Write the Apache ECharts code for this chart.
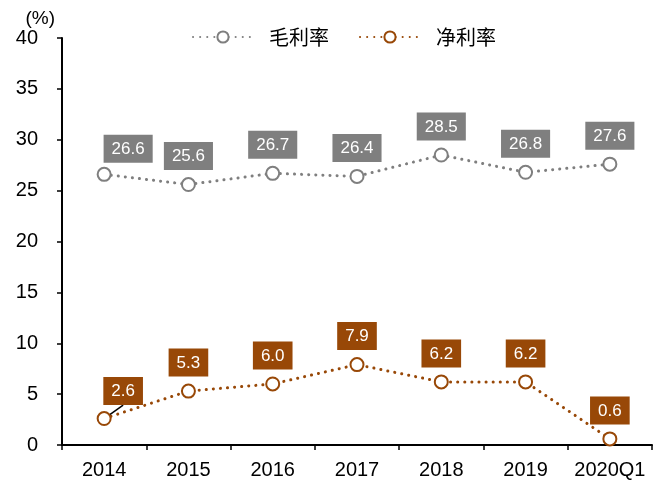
<!DOCTYPE html>
<html>
<head>
<meta charset="utf-8">
<script src="https://cdn.jsdelivr.net/npm/echarts@6/dist/echarts.min.js"></script>
<style>
html, body { margin: 0; padding: 0; background: #fff; }
#chart { width: 670px; height: 481px; }
</style>
</head>
<body>
<div id="chart"></div>
<script>
// 年份
var years = ['2014', '2015', '2016', '2017', '2018', '2019', '2020Q1'];
// 毛利率 (%)
var grossMargin = [26.6, 25.6, 26.7, 26.4, 28.5, 26.8, 27.6];
// 净利率 (%)
var netMargin = [2.6, 5.3, 6.0, 7.9, 6.2, 6.2, 0.6];

var grayColor = '#7f7f7f';
var brownColor = '#984807';
var numFont = 'Liberation Sans, Arial';

function labelStyle(bg) {
    return {
        show: true,
        position: 'top',
        distance: 7,
        color: '#fff',
        fontFamily: numFont,
        fontSize: 17,
        backgroundColor: bg,
        padding: [6, 8, 5, 8],
        formatter: function(p) { return p.value.toFixed(1); }
    };
}

var chart = echarts.init(document.getElementById('chart'));
var option = {
    animation: false,
    grid: { left: 62, right: 18, top: 38, bottom: 36 },
    legend: {
        top: 22,
        left: 187,
        itemWidth: 60,
        itemHeight: 14,
        itemGap: 30,
        textStyle: { fontFamily: 'Noto Sans CJK SC', fontSize: 20, color: '#000', padding: [0, 0, 0, 11] },
        data: ['毛利率', '净利率']
    },
    xAxis: {
        type: 'category',
        data: years,
        axisLine: { lineStyle: { color: '#000', width: 2 } },
        axisTick: { show: true, length: 5, lineStyle: { color: '#000', width: 1.5 } },
        axisLabel: { interval: 0, hideOverlap: false, color: '#000', fontFamily: numFont, fontSize: 20, margin: 15 }
    },
    yAxis: {
        type: 'value',
        name: '(%)',
        nameGap: 4,
        nameTextStyle: { color: '#000', fontFamily: numFont, fontSize: 19, align: 'right', padding: [0, 7, 0, 0] },
        min: 0,
        max: 40,
        interval: 5,
        splitLine: { show: false },
        axisLine: { show: true, lineStyle: { color: '#000', width: 2 } },
        axisTick: { show: true, length: 5, lineStyle: { color: '#000', width: 1.5 } },
        axisLabel: { color: '#000', fontFamily: numFont, fontSize: 20, margin: 24 }
    },
    series: [{
        name: '毛利率',
        type: 'line',
        data: grossMargin.map(function(v, i) {
            if (i == 0) return { value: v, label: { offset: [24, 3] } };
            return v;
        }),
        symbol: 'circle',
        symbolSize: 13,
        itemStyle: { color: '#fff', borderColor: grayColor, borderWidth: 2 },
        lineStyle: { color: grayColor, width: 3, type: [0.1, 7], cap: 'round' },
        label: labelStyle(grayColor)
    }, {
        name: '净利率',
        type: 'line',
        data: netMargin.map(function(v, i) {
            if (i == 0) return { value: v, labelLine: { show: true, lineStyle: { color: '#000', width: 1.5 } } };
            if (i == 6) return { value: v, label: { offset: [3, -1] } };
            return v;
        }),
        symbol: 'circle',
        symbolSize: 13,
        itemStyle: { color: '#fff', borderColor: brownColor, borderWidth: 2 },
        lineStyle: { color: brownColor, width: 3, type: [0.1, 7], cap: 'round' },
        label: labelStyle(brownColor),
        labelLayout: function(params) {
            if (params.dataIndex == 0) return { dx: 19, dy: 1 };
        }
    }]
};
chart.setOption(option);
</script>
</body>
</html>
